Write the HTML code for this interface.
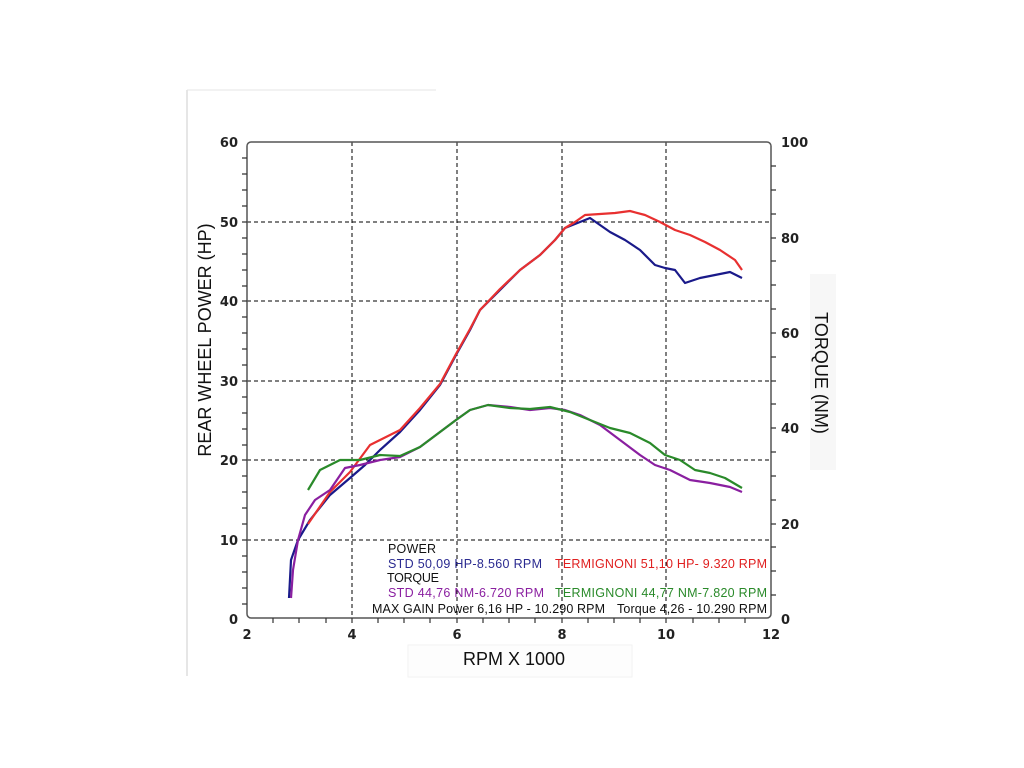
<!DOCTYPE html>
<html><head><style>
body{margin:0;background:#fff;}
svg{display:block;font-family:"Liberation Sans",Arial,sans-serif;}
</style></head><body>
<svg width="1024" height="768" viewBox="0 0 1024 768">
<rect width="1024" height="768" fill="#fff"/>
<line x1="187" y1="90" x2="187" y2="676" stroke="#ccc" stroke-width="1"/>
<line x1="187" y1="90" x2="436" y2="90" stroke="#e4e4e4" stroke-width="1"/>
<rect x="810" y="274" width="26" height="196" fill="#f7f7f7"/>
<rect x="408" y="645" width="224" height="32" fill="#fdfdfd" stroke="#f2f2f2"/>
<g stroke="#000" stroke-width="1" stroke-dasharray="4,3">
<line x1="247" y1="222" x2="771" y2="222"/><line x1="247" y1="301" x2="771" y2="301"/>
<line x1="247" y1="381" x2="771" y2="381"/><line x1="247" y1="460" x2="771" y2="460"/>
<line x1="247" y1="540" x2="771" y2="540"/>
<line x1="352" y1="142" x2="352" y2="618"/><line x1="457" y1="142" x2="457" y2="618"/>
<line x1="562" y1="142" x2="562" y2="618"/><line x1="666" y1="142" x2="666" y2="618"/>
</g>
<rect x="247" y="142" width="524" height="476" rx="4" fill="none" stroke="#555" stroke-width="1.5"/>
<g stroke="#333" stroke-width="1.2">
<path d="M247 158h-5M247 174h-5M247 190h-5M247 206h-5M247 222h-5M247 238h-5M247 254h-5M247 270h-5M247 286h-5M247 301h-5M247 317h-5M247 333h-5M247 349h-5M247 365h-5M247 381h-5M247 397h-5M247 413h-5M247 429h-5M247 445h-5M247 460h-5M247 476h-5M247 492h-5M247 508h-5M247 524h-5M247 540h-5M247 556h-5M247 572h-5M247 588h-5M247 604h-5"/>
<path d="M771 166h5M771 190h5M771 214h5M771 238h5M771 261h5M771 285h5M771 309h5M771 333h5M771 357h5M771 381h5M771 404h5M771 428h5M771 452h5M771 476h5M771 500h5M771 524h5M771 547h5M771 571h5M771 595h5"/>
<path d="M273 618v5M299 618v5M326 618v5M352 618v5M378 618v5M404 618v5M430 618v5M457 618v5M483 618v5M509 618v5M535 618v5M562 618v5M588 618v5M614 618v5M640 618v5M666 618v5M693 618v5M719 618v5M745 618v5"/>
</g>
<g font-size="13" font-weight="bold" fill="#222" font-family="'DejaVu Sans',sans-serif">
<text x="238" y="147" text-anchor="end">60</text><text x="238" y="227" text-anchor="end">50</text>
<text x="238" y="306" text-anchor="end">40</text><text x="238" y="386" text-anchor="end">30</text>
<text x="238" y="465" text-anchor="end">20</text><text x="238" y="545" text-anchor="end">10</text>
<text x="238" y="624" text-anchor="end">0</text>
<text x="781" y="147">100</text><text x="781" y="243">80</text><text x="781" y="338">60</text>
<text x="781" y="433">40</text><text x="781" y="529">20</text><text x="781" y="624">0</text>
<text x="247" y="639" text-anchor="middle">2</text><text x="352" y="639" text-anchor="middle">4</text>
<text x="457" y="639" text-anchor="middle">6</text><text x="562" y="639" text-anchor="middle">8</text>
<text x="666" y="639" text-anchor="middle">10</text><text x="771" y="639" text-anchor="middle">12</text>
</g>
<text x="514" y="665" font-size="18" text-anchor="middle" fill="#111">RPM X 1000</text>
<text transform="translate(211,340) rotate(-90)" font-size="18" text-anchor="middle" fill="#111">REAR WHEEL POWER (HP)</text>
<text transform="translate(815,373) rotate(90)" font-size="18" text-anchor="middle" fill="#111">TORQUE (NM)</text>
<g fill="none" stroke-width="2.2" stroke-linejoin="round">
<polyline stroke="#1a1a8a" points="289,598 291,560 298,540 310,520 330,495 350,478 365,465 380,450 400,432 420,410 440,385 456,355 470,330 480,310 500,290 520,270 540,255 555,240 565,228 580,222 590,218 600,225 610,232 625,240 640,250 655,265 665,268 675,270 685,283 700,278 715,275 730,272 742,278"/>
<polyline stroke="#e83030" points="308,524 330,492 350,472 370,445 380,440 400,430 420,408 440,384 456,354 470,329 480,310 500,289 520,270 540,255 555,240 565,228 575,222 585,215 600,214 615,213 630,211 645,215 660,222 675,230 690,235 705,242 720,250 735,260 742,270"/>
<polyline stroke="#8a1fa0" points="291,598 293,570 298,540 305,515 315,500 330,490 345,468 360,465 380,460 400,457 420,447 440,432 456,420 470,410 488,405 510,407 530,410 550,408 565,410 580,415 600,425 620,440 640,455 655,465 670,470 690,480 710,483 730,487 742,492"/>
<polyline stroke="#2a8a2a" points="308,490 320,470 340,460 360,460 380,455 400,456 420,447 440,432 456,420 470,410 488,405 510,408 530,409 550,407 570,412 590,420 610,428 630,433 650,443 665,455 680,460 695,470 710,473 725,478 742,488"/>
</g>
<g font-size="12.5">
<text x="388" y="553" fill="#111" textLength="48">POWER</text>
<text x="388" y="568" fill="#2a2a90" textLength="154">STD  50,09 HP-8.560 RPM</text>
<text x="555" y="568" fill="#e02020" textLength="212">TERMIGNONI 51,10 HP- 9.320 RPM</text>
<text x="387" y="582" fill="#111" textLength="52">TORQUE</text>
<text x="388" y="597" fill="#8a1fa0" textLength="156">STD  44,76 NM-6.720 RPM</text>
<text x="555" y="597" fill="#2a8a2a" textLength="212">TERMIGNONI  44,77 NM-7.820 RPM</text>
<text x="372" y="613" fill="#111" textLength="233">MAX GAIN Power 6,16 HP - 10.290 RPM</text>
<text x="617" y="613" fill="#111" textLength="150">Torque 4,26 - 10.290 RPM</text>
</g>
</svg>
</body></html>
